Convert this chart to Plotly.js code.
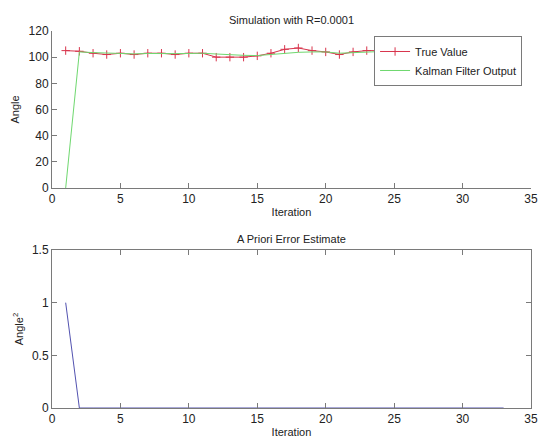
<!DOCTYPE html>
<html>
<head>
<meta charset="utf-8">
<script src="https://cdn.plot.ly/plotly-3.0.1.min.js"></script>
<style>html,body{margin:0;padding:0;background:#fff;}#chart{width:541px;height:439px;}</style>
</head>
<body>
<div id="chart"></div>
<script>
const iterations = [1,2,3,4,5,6,7,8,9,10,11,12,13,14,15,16,17,18,19,20,21,22,23,24,25,26,27,28,29,30,31,32,33];
const trueValue = [105,104.5,103,102,103,102,103,103,102,103,103,100,100,100,101,103,106,107,105,104,102,104,105,105,104,103,104,105,104,103,104,105,104];
const kalmanOutput = [0,104,103.5,103,103,102.5,102.8,103,102.7,102.8,103,102.4,101.8,101.4,101.2,102,103,103.7,104,104,103,103.5,104,104.3,104.2,104,104,104.2,104.2,104,104,104.2,104.2];
const aprioriError = [1,0.0001,0.0001,0.0001,0.0001,0.0001,0.0001,0.0001,0.0001,0.0001,0.0001,0.0001,0.0001,0.0001,0.0001,0.0001,0.0001,0.0001,0.0001,0.0001,0.0001,0.0001,0.0001,0.0001,0.0001,0.0001,0.0001,0.0001,0.0001,0.0001,0.0001,0.0001,0.0001];
const xTicks = [0,5,10,15,20,25,30,35];
const yTicksTop = [0,20,40,60,80,100,120];
const yTicksBottom = [0,0.5,1,1.5];

const font = {family: 'Liberation Sans, Arial, sans-serif', size: 11, color: '#222'};
const axisCommon = {
  showline: true, linecolor: '#7a7a7a', linewidth: 1,
  ticks: 'inside', ticklen: 5, tickcolor: '#7a7a7a',
  showgrid: false, zeroline: false, tickfont: {family: font.family, size: 12, color: '#222'}
};

const traces = [
  {x: iterations, y: trueValue, name: 'True Value', mode: 'lines+markers',
   line: {color: '#d8344c', width: 1},
   marker: {symbol: 'cross-thin', size: 6, line: {color: '#d8344c', width: 1}},
   xaxis: 'x', yaxis: 'y'},
  {x: iterations, y: kalmanOutput, name: 'Kalman Filter Output', mode: 'lines',
   line: {color: '#6fd86f', width: 1}, xaxis: 'x', yaxis: 'y'},
  {x: iterations, y: aprioriError, name: 'A Priori Error', mode: 'lines',
   line: {color: '#5252b0', width: 1}, xaxis: 'x2', yaxis: 'y2', showlegend: false}
];

const layout = {
  width: 541, height: 439,
  margin: {l: 0, r: 0, t: 0, b: 0},
  paper_bgcolor: '#fff', plot_bgcolor: '#fff',
  font: font,
  showlegend: true,
  legend: {x: 0.965, xanchor: 'right', y: 0.918, yanchor: 'top',
    bgcolor: '#fff', bordercolor: '#7a7a7a', borderwidth: 1,
    font: {family: font.family, size: 11, color: '#222'},
    tracegroupgap: 0, itemwidth: 30},
  xaxis: Object.assign({}, axisCommon, {domain: [0.0961, 0.9815], range: [0, 35], tickvals: xTicks,
    anchor: 'y', mirror: false,
    title: {text: 'Iteration', font: font, standoff: 2}}),
  yaxis: Object.assign({}, axisCommon, {domain: [0.5718, 0.9294], range: [0, 120], tickvals: yTicksTop,
    anchor: 'x', mirror: false,
    title: {text: 'Angle', font: font, standoff: 6}}),
  xaxis2: Object.assign({}, axisCommon, {domain: [0.0961, 0.9815], range: [0, 35], tickvals: xTicks,
    anchor: 'y2', mirror: 'ticks',
    title: {text: 'Iteration', font: font, standoff: 2}}),
  yaxis2: Object.assign({}, axisCommon, {domain: [0.0706, 0.4305], range: [0, 1.5], tickvals: yTicksBottom,
    anchor: 'x2', mirror: 'ticks',
    title: {text: 'Angle<sup>2</sup>', font: font, standoff: 6}}),
  annotations: [
    {text: 'Simulation with R=0.0001', xref: 'paper', yref: 'paper', x: 0.539, y: 0.9294, yanchor: 'bottom',
     yshift: 3, showarrow: false, font: font},
    {text: 'A Priori Error Estimate', xref: 'paper', yref: 'paper', x: 0.539, y: 0.4305, yanchor: 'bottom',
     yshift: 3, showarrow: false, font: font}
  ]
};

Plotly.newPlot('chart', traces, layout, {displayModeBar: false, staticPlot: true});
</script>
</body>
</html>
